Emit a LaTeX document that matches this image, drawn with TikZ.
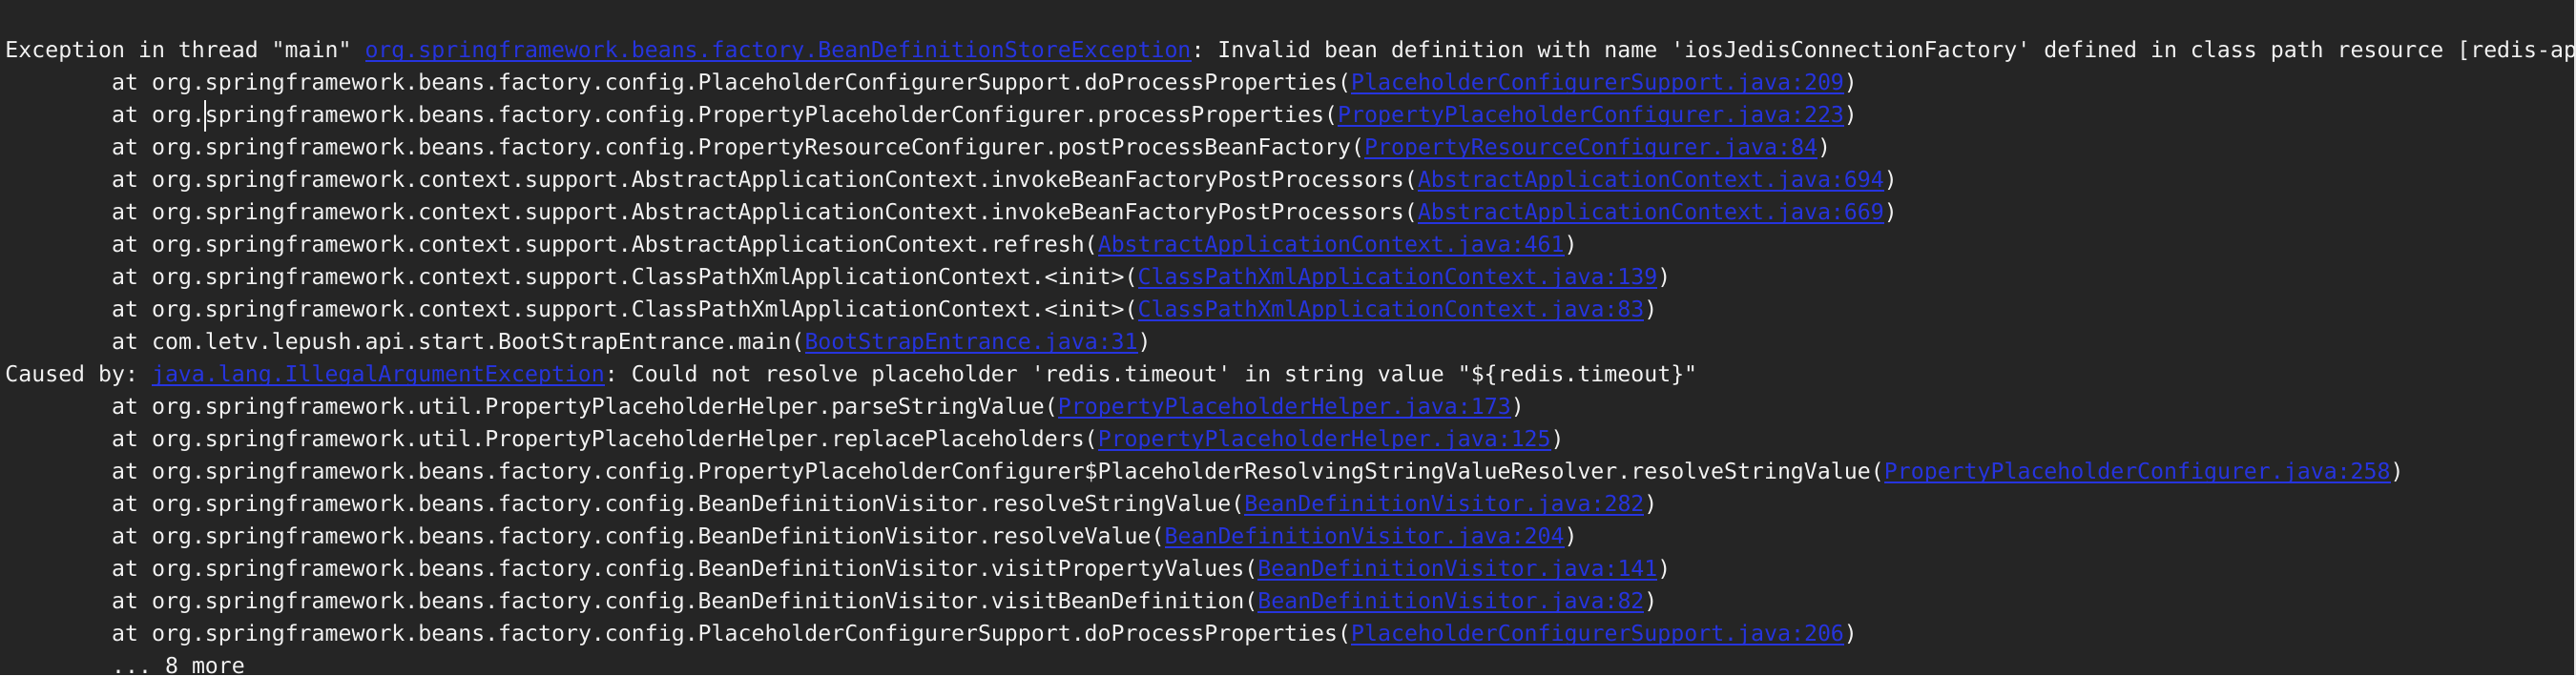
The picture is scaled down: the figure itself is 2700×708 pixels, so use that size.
\documentclass[tikz,border=0pt]{standalone}
\usepackage{fontspec}
\setmonofont{DejaVu Sans Mono}
\definecolor{termbg}{RGB}{37,37,37}
\definecolor{termfg}{RGB}{242,242,242}
\definecolor{linkblue}{RGB}{38,52,222}
\definecolor{edgegray}{RGB}{230,230,230}
\newlength\lnkwd
\newcommand\lnk[1]{\settowidth\lnkwd{#1}\textcolor{linkblue}{\rlap{\rule[-2.5pt]{\lnkwd}{1pt}}#1}}
\tikzset{msg/.style={anchor=base west, inner sep=0pt, text=termfg,
  font=\ttfamily\fontsize{11.6pt}{14pt}\selectfont}}
\begin{document}
\begin{tikzpicture}[x=0.5pt,y=-0.5pt]
\useasboundingbox (0,0) rectangle (2700,708);
\fill [termbg] (0,0) rectangle (2700,708);
\fill [edgegray] (2698,0) rectangle (2700,708);
\begin{scope}
\clip (0,0) rectangle (2698,708);
\node [msg] (l1) at (5,60) {Exception in thread "main" \lnk{org.springframework.beans.factory.BeanDefinitionStoreException}: Invalid bean definition with name 'iosJedisConnectionFactory' defined in class path resource [redis-ap};
\node [msg] (l2) at (116.8,94) {at org.springframework.beans.factory.config.PlaceholderConfigurerSupport.doProcessProperties(\lnk{PlaceholderConfigurerSupport.java:209})};
\node [msg] (l3) at (116.8,128) {at org.springframework.beans.factory.config.PropertyPlaceholderConfigurer.processProperties(\lnk{PropertyPlaceholderConfigurer.java:223})};
\node [msg] (l4) at (116.8,162) {at org.springframework.beans.factory.config.PropertyResourceConfigurer.postProcessBeanFactory(\lnk{PropertyResourceConfigurer.java:84})};
\node [msg] (l5) at (116.8,196) {at org.springframework.context.support.AbstractApplicationContext.invokeBeanFactoryPostProcessors(\lnk{AbstractApplicationContext.java:694})};
\node [msg] (l6) at (116.8,230) {at org.springframework.context.support.AbstractApplicationContext.invokeBeanFactoryPostProcessors(\lnk{AbstractApplicationContext.java:669})};
\node [msg] (l7) at (116.8,264) {at org.springframework.context.support.AbstractApplicationContext.refresh(\lnk{AbstractApplicationContext.java:461})};
\node [msg] (l8) at (116.8,298) {at org.springframework.context.support.ClassPathXmlApplicationContext.<init>(\lnk{ClassPathXmlApplicationContext.java:139})};
\node [msg] (l9) at (116.8,332) {at org.springframework.context.support.ClassPathXmlApplicationContext.<init>(\lnk{ClassPathXmlApplicationContext.java:83})};
\node [msg] (l10) at (116.8,366) {at com.letv.lepush.api.start.BootStrapEntrance.main(\lnk{BootStrapEntrance.java:31})};
\node [msg] (l11) at (5,400) {Caused by: \lnk{java.lang.IllegalArgumentException}: Could not resolve placeholder 'redis.timeout' in string value "\$\{redis.timeout\}"};
\node [msg] (l12) at (116.8,434) {at org.springframework.util.PropertyPlaceholderHelper.parseStringValue(\lnk{PropertyPlaceholderHelper.java:173})};
\node [msg] (l13) at (116.8,468) {at org.springframework.util.PropertyPlaceholderHelper.replacePlaceholders(\lnk{PropertyPlaceholderHelper.java:125})};
\node [msg] (l14) at (116.8,502) {at org.springframework.beans.factory.config.PropertyPlaceholderConfigurer\$PlaceholderResolvingStringValueResolver.resolveStringValue(\lnk{PropertyPlaceholderConfigurer.java:258})};
\node [msg] (l15) at (116.8,536) {at org.springframework.beans.factory.config.BeanDefinitionVisitor.resolveStringValue(\lnk{BeanDefinitionVisitor.java:282})};
\node [msg] (l16) at (116.8,570) {at org.springframework.beans.factory.config.BeanDefinitionVisitor.resolveValue(\lnk{BeanDefinitionVisitor.java:204})};
\node [msg] (l17) at (116.8,604) {at org.springframework.beans.factory.config.BeanDefinitionVisitor.visitPropertyValues(\lnk{BeanDefinitionVisitor.java:141})};
\node [msg] (l18) at (116.8,638) {at org.springframework.beans.factory.config.BeanDefinitionVisitor.visitBeanDefinition(\lnk{BeanDefinitionVisitor.java:82})};
\node [msg] (l19) at (116.8,672) {at org.springframework.beans.factory.config.PlaceholderConfigurerSupport.doProcessProperties(\lnk{PlaceholderConfigurerSupport.java:206})};
\node [msg] (l20) at (116.8,706) {... 8 more};
\end{scope}
% text cursor after "org."
\draw [termfg, line width=0.75pt] (215,105) -- (215,138);
\end{tikzpicture}
\end{document}
